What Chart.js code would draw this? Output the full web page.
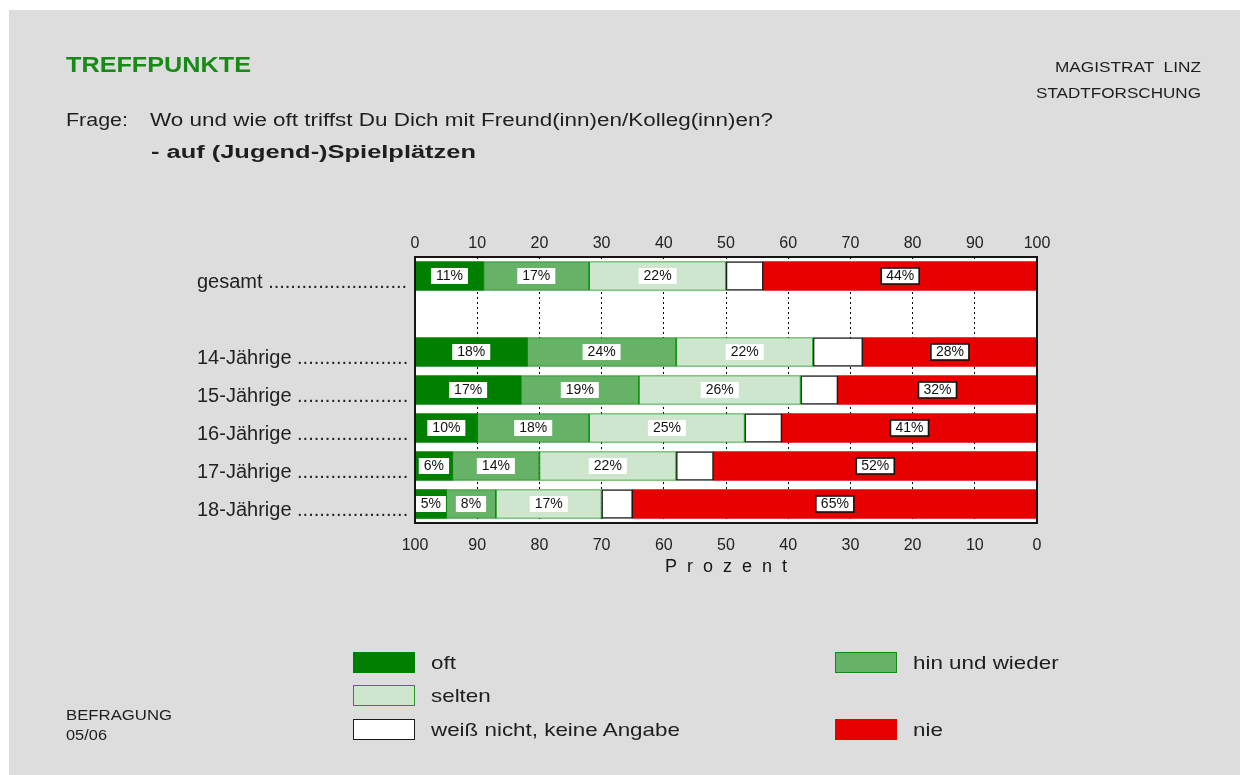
<!DOCTYPE html>
<html>
<head>
<meta charset="utf-8">
<script src="https://cdn.jsdelivr.net/npm/chart.js@4/dist/chart.umd.min.js"></script>
<style>
  html, body { margin: 0; padding: 0; background: #ffffff; }
  body { width: 1240px; height: 775px; position: relative; overflow: hidden; font-family: "Liberation Sans", Arial, sans-serif; }
  #bg { position: absolute; left: 9px; top: 10px; width: 1231px; height: 765px; background: #dddddd; }
  #c { position: absolute; left: 0; top: 0; }
  .t { position: absolute; white-space: pre; line-height: 1; display: inline-block; transform-origin: 0 50%; color: #1e1e1e; }
  .box { position: absolute; box-sizing: border-box; }
</style>
</head>
<body>
<div id="bg"></div>
<canvas id="c" width="1240" height="775"></canvas>

<span class="t" data-x="66" data-b="72.5" data-s="22" data-w="185" style="font-weight:bold;color:#178a17;">TREFFPUNKTE</span>
<span class="t" data-x="1055" data-b="72" data-s="15" data-w="146">MAGISTRAT  LINZ</span>
<span class="t" data-x="1036" data-b="97.5" data-s="15" data-w="165">STADTFORSCHUNG</span>
<span class="t" data-x="66" data-b="126" data-s="18" data-w="62">Frage:</span>
<span class="t" data-x="150" data-b="126" data-s="18" data-w="623">Wo und wie oft triffst Du Dich mit Freund(inn)en/Kolleg(inn)en?</span>
<span class="t" data-x="151" data-b="158" data-s="18" data-w="325" style="font-weight:bold;">- auf (Jugend-)Spielplätzen</span>
<span class="t" data-x="66" data-b="719.5" data-s="14" data-w="106">BEFRAGUNG</span>
<span class="t" data-x="66" data-b="739.5" data-s="14" data-w="41">05/06</span>

<script>
// ---- data ----
const categories = ['gesamt', '', '14-Jährige', '15-Jährige', '16-Jährige', '17-Jährige', '18-Jährige'];
const seriesNames = ['oft', 'hin und wieder', 'selten', 'weiß nicht, keine Angabe', 'nie'];
const oft          = [11, null, 18, 17, 10, 6, 5];
const hinUndWieder = [17, null, 24, 19, 18, 14, 8];
const selten       = [22, null, 22, 26, 25, 22, 17];
const weissNicht   = [6,  null, 8,  6,  6,  6, 5];
const nie          = [44, null, 28, 32, 41, 52, 65];
const axisMin = 0, axisMax = 100, axisStep = 10;
const axisTitle = 'Prozent';

// ---- styles ----
const fills   = ['#008000', '#66b266', '#cde6cd', '#ffffff', '#e60000'];
const borders = ['#008000', '#118a11', '#1f9a1f', '#1a1a1a', '#e60000'];
const borderW = [0, 1.2, 1.2, 1.6, 0];
const labelStyles = ['plain', 'plain', 'plain', null, 'boxed'];
const seriesData = [oft, hinUndWieder, selten, weissNicht, nie];

// ---- HTML text placement ----
document.querySelectorAll('.t').forEach(el => {
  const s = parseFloat(el.dataset.s);
  el.style.fontSize = s + 'px';
  el.style.left = el.dataset.x + 'px';
  el.style.top = (parseFloat(el.dataset.b) - 0.8465 * s) + 'px';
  const nat = el.getBoundingClientRect().width;
  const target = parseFloat(el.dataset.w);
  if (nat > 0 && target) el.style.transform = 'scaleX(' + (target / nat) + ')';
});

// ---- legend (HTML, built from series arrays) ----
const legendSlots = [[353, 652], [835, 652], [353, 685], [353, 719], [835, 719]];
seriesNames.forEach((name, i) => {
  const [x, y] = legendSlots[i];
  const b = document.createElement('div');
  b.className = 'box';
  b.style.cssText = `left:${x}px;top:${y}px;width:62px;height:21px;background:${fills[i]};border:${i === 3 ? 1.6 : 1.2}px solid ${borders[i]};`;
  document.body.appendChild(b);
  const t = document.createElement('span');
  t.className = 't';
  t.textContent = name;
  t.style.fontSize = '18.5px';
  t.style.left = (x + 78) + 'px';
  t.style.top = (y + 17.5 - 0.8465 * 18.5) + 'px';
  t.style.transform = 'scaleX(1.21)';
  t.style.color = '#1e1e1e';
  document.body.appendChild(t);
});

// ---- chart ----
const FONT = '"Liberation Sans", Arial, sans-serif';
const measureCtx = document.createElement('canvas').getContext('2d');
const Y_FONT_SIZE = 20;
measureCtx.font = Y_FONT_SIZE + 'px ' + FONT;
function withLeader(label, width) {
  if (!label) return '';
  let s = label + ' ';
  while (measureCtx.measureText(s + '.').width <= width) s += '.';
  return s;
}

const plotDecor = {
  id: 'plotDecor',
  beforeDraw(chart) {
    const {ctx, chartArea: a} = chart;
    ctx.save();
    ctx.fillStyle = '#ffffff';
    ctx.fillRect(a.left, a.top, a.right - a.left, a.bottom - a.top);
    ctx.restore();
  },
  afterDatasetsDraw(chart) {
    const {ctx, chartArea: a} = chart;
    ctx.save();
    ctx.font = '14px ' + FONT;
    ctx.textAlign = 'center';
    ctx.textBaseline = 'middle';
    chart.data.datasets.forEach((ds, di) => {
      if (!ds.labelStyle) return;
      chart.getDatasetMeta(di).data.forEach((bar, i) => {
        const v = ds.data[i];
        if (v == null) return;
        const cx = (bar.x + bar.base) / 2;
        const cy = bar.y;
        const txt = v + '%';
        const w = ctx.measureText(txt).width + 10;
        const h = 16;
        ctx.fillStyle = '#ffffff';
        ctx.fillRect(cx - w / 2, cy - h / 2, w, h);
        if (ds.labelStyle === 'boxed') {
          ctx.lineWidth = 1.6;
          ctx.strokeStyle = '#111111';
          ctx.strokeRect(cx - w / 2, cy - h / 2, w, h);
        }
        ctx.fillStyle = '#111111';
        ctx.fillText(txt, cx, cy + 0.5);
      });
    });
    ctx.lineWidth = 2;
    ctx.strokeStyle = '#151515';
    ctx.strokeRect(a.left, a.top, a.right - a.left, a.bottom - a.top);
    ctx.restore();
  }
};

new Chart(document.getElementById('c'), {
  type: 'bar',
  data: {
    labels: categories,
    datasets: seriesNames.map((name, i) => ({
      label: name,
      data: seriesData[i],
      backgroundColor: fills[i],
      borderColor: borders[i],
      borderWidth: borderW[i],
      borderSkipped: false,
      barThickness: 29,
      labelStyle: labelStyles[i],
      xAxisID: 'x'
    }))
  },
  options: {
    indexAxis: 'y',
    responsive: false,
    animation: false,
    events: [],
    layout: { padding: { left: 197, right: 203, top: 200, bottom: 192 } },
    plugins: { legend: { display: false }, tooltip: { enabled: false } },
    scales: {
      x: {
        type: 'linear',
        position: 'top',
        stacked: true,
        min: axisMin, max: axisMax,
        ticks: { stepSize: axisStep, color: '#222', font: { size: 16, family: FONT }, padding: 4, maxRotation: 0 },
        grid: { display: true, drawOnChartArea: true, drawTicks: false, color: '#000000', lineWidth: 1 },
        border: { display: false, dash: [2, 3] },
        afterFit(scale) { scale.height = 57; }
      },
      x2: {
        type: 'linear',
        position: 'bottom',
        display: true,
        reverse: true,
        min: axisMin, max: axisMax,
        ticks: { stepSize: axisStep, color: '#222', font: { size: 16, family: FONT }, padding: 13, maxRotation: 0 },
        grid: { display: false, drawOnChartArea: false, drawTicks: false },
        border: { display: false },
        title: { display: true, text: axisTitle.split('').join('  '), color: '#151515', font: { size: 18, family: FONT }, padding: { top: 0, bottom: 5 } },
        afterFit(scale) { scale.height = 60; }
      },
      y: {
        type: 'category',
        stacked: true,
        offset: true,
        ticks: {
          autoSkip: false,
          crossAlign: 'far',
          labelOffset: 6,
          color: '#222',
          font: { size: Y_FONT_SIZE, family: FONT },
          callback(value, index) { return withLeader(categories[index], 213); }
        },
        grid: { display: false, drawTicks: false },
        border: { display: false },
        afterFit(scale) { scale.width = 218; }
      }
    }
  },
  plugins: [plotDecor]
});
</script>
</body>
</html>
